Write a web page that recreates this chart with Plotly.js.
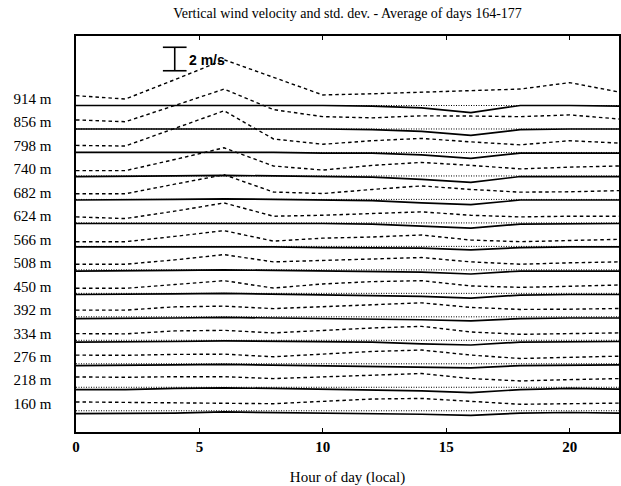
<!DOCTYPE html>
<html>
<head>
<meta charset="utf-8">
<script src="https://cdn.plot.ly/plotly-3.0.1.min.js"></script>
<style>html,body{margin:0;padding:0;background:#fff;}#chart{width:621px;height:486px;}</style>
</head>
<body>
<div id="chart"></div>
<script>
// Hours of day (local)
const hours = [0, 2, 4, 6, 8, 10, 12, 14, 16, 18, 20, 22];
// Heights (bottom to top) and their tick labels
const heights = [160, 218, 276, 334, 392, 450, 508, 566, 624, 682, 740, 798, 856, 914];
const heightLabels = ["160 m", "218 m", "276 m", "334 m", "392 m", "450 m", "508 m", "566 m", "624 m", "682 m", "740 m", "798 m", "856 m", "914 m"];

// Mean vertical wind velocity (m/s) per height
const w_160 = [-0.25, -0.25, -0.2, -0.1, -0.15, -0.2, -0.2, -0.3, -0.4, -0.2, -0.15, -0.2];
const w_218 = [-0.2, -0.2, -0.1, -0.05, -0.1, -0.15, -0.2, -0.3, -0.45, -0.2, -0.1, -0.15];
const w_276 = [-0.15, -0.15, -0.1, -0.05, -0.1, -0.15, -0.2, -0.25, -0.35, -0.15, -0.1, -0.1];
const w_334 = [-0.15, -0.15, -0.1, -0.05, -0.1, -0.15, -0.15, -0.3, -0.4, -0.15, -0.1, -0.1];
const w_392 = [-0.15, -0.15, -0.1, -0.05, -0.1, -0.15, -0.15, -0.25, -0.35, -0.15, -0.1, -0.1];
const w_450 = [-0.1, -0.1, -0.05, 0.0, -0.05, -0.1, -0.15, -0.25, -0.4, -0.15, -0.1, -0.1];
const w_508 = [-0.1, -0.1, -0.05, 0.0, -0.05, -0.1, -0.1, -0.2, -0.35, -0.1, -0.1, -0.1];
const w_566 = [-0.05, -0.05, -0.05, 0.0, -0.05, -0.1, -0.1, -0.15, -0.3, -0.1, -0.05, -0.05];
const w_624 = [-0.05, -0.05, 0.0, 0.0, -0.05, -0.05, -0.1, -0.3, -0.45, -0.1, -0.05, -0.05];
const w_682 = [-0.05, -0.05, 0.0, 0.05, 0.0, -0.05, -0.1, -0.3, -0.45, -0.05, -0.05, -0.05];
const w_740 = [-0.05, -0.05, 0.0, 0.05, 0.0, -0.05, -0.1, -0.3, -0.55, -0.05, -0.05, -0.05];
const w_798 = [0.0, 0.0, 0.0, 0.05, 0.0, -0.05, -0.05, -0.2, -0.5, -0.05, -0.05, -0.05];
const w_856 = [0.0, 0.0, 0.05, 0.05, 0.0, 0.0, -0.05, -0.2, -0.55, -0.05, 0.0, 0.0];
const w_914 = [0.0, 0.0, 0.05, 0.05, 0.0, 0.0, -0.05, -0.2, -0.6, 0.0, 0.0, -0.05];

// Standard deviation of vertical wind velocity (m/s) per height
const sd_160 = [0.75, 0.7, 0.7, 0.65, 0.6, 0.8, 1.0, 1.05, 0.8, 0.55, 0.6, 0.65];
const sd_218 = [0.88, 0.85, 0.9, 0.9, 0.74, 0.9, 1.05, 1.17, 0.74, 0.54, 0.65, 0.74];
const sd_276 = [0.74, 0.72, 0.8, 0.82, 0.6, 0.85, 1.05, 1.17, 0.74, 0.45, 0.55, 0.65];
const sd_334 = [0.57, 0.55, 0.8, 0.85, 0.63, 0.85, 1.05, 1.19, 0.71, 0.51, 0.55, 0.63];
const sd_392 = [0.57, 0.57, 0.85, 0.91, 0.7, 0.85, 1.05, 1.19, 0.8, 0.63, 0.65, 0.71];
const sd_450 = [0.43, 0.43, 0.75, 1.08, 0.45, 0.8, 1.0, 1.08, 0.63, 0.51, 0.6, 0.71];
const sd_508 = [0.48, 0.48, 0.85, 1.3, 0.68, 0.8, 0.95, 1.05, 0.68, 0.48, 0.6, 0.68];
const sd_566 = [0.4, 0.4, 0.85, 1.34, 0.45, 0.7, 0.8, 0.97, 0.54, 0.4, 0.5, 0.6];
const sd_624 = [0.51, 0.37, 1.0, 1.7, 0.57, 0.65, 0.8, 0.94, 0.65, 0.51, 0.57, 0.57];
const sd_682 = [0.48, 0.48, 1.3, 2.1, 0.63, 0.5, 0.85, 1.15, 0.85, 0.62, 0.65, 0.75];
const sd_740 = [0.45, 0.45, 1.4, 2.4, 0.85, 0.5, 0.9, 1.15, 0.9, 0.6, 0.75, 0.85];
const sd_798 = [0.6, 0.55, 2.05, 3.55, 1.15, 0.7, 1.0, 1.2, 0.9, 0.65, 1.0, 0.8];
const sd_856 = [0.77, 0.62, 2.0, 3.4, 1.65, 1.05, 0.95, 1.12, 1.1, 1.05, 1.2, 0.85];
const sd_914 = [0.84, 0.55, 2.2, 3.9, 2.4, 0.9, 1.0, 1.15, 1.25, 1.4, 1.95, 1.15];

const xTicks = [0, 5, 10, 15, 20];
const scaleBarValue = 2; // m/s

const meanSeries = [w_160, w_218, w_276, w_334, w_392, w_450, w_508, w_566, w_624, w_682, w_740, w_798, w_856, w_914];
const sdSeries = [sd_160, sd_218, sd_276, sd_334, sd_392, sd_450, sd_508, sd_566, sd_624, sd_682, sd_740, sd_798, sd_856, sd_914];

const spacing = 2; // m/s between stacked levels
const traces = [];
heights.forEach((h, i) => {
  const base = i * spacing;
  traces.push({
    x: hours, y: hours.map(() => base), mode: 'lines', type: 'scatter',
    line: {color: '#000', width: 1, dash: '1px,1.5px'}, hoverinfo: 'skip', showlegend: false
  });
  traces.push({
    x: hours, y: meanSeries[i].map(v => base + v), mode: 'lines', type: 'scatter',
    line: {color: '#000', width: 1.7}, name: 'w ' + h + ' m', showlegend: false
  });
  traces.push({
    x: hours, y: sdSeries[i].map(v => base + v), mode: 'lines', type: 'scatter',
    line: {color: '#000', width: 1.4, dash: '3.5px,3px'}, name: 'std ' + h + ' m', showlegend: false
  });
});

const barX = 4.0, barTop = 30.96, capHalf = 0.48;
const layout = {
  width: 621, height: 486,
  margin: {l: 76, r: 2, t: 36, b: 54},
  paper_bgcolor: '#fff', plot_bgcolor: '#fff',
  font: {family: 'Liberation Serif, Times New Roman, serif', color: '#000', size: 15},
  title: {text: 'Vertical wind velocity and std. dev. - Average of days 164-177',
          font: {size: 14, family: 'Liberation Serif, serif', color: '#000'},
          xref: 'paper', x: 0.5, xanchor: 'center', yref: 'container', y: 1 - 13/486, yanchor: 'middle'},
  xaxis: {range: [0, 22], tickvals: xTicks, ticktext: xTicks.map(String), ticks: 'inside', ticklen: 4,
          tickcolor: '#000', showline: true, linecolor: '#000', linewidth: 1.6, mirror: 'ticks',
          showgrid: false, zeroline: false, tickfont: {size: 15, weight: 'bold'},
          title: {text: 'Hour of day (local)', font: {size: 15}, standoff: 20}},
  yaxis: {range: [-1.81, 31.92], tickvals: heights.map((h, i) => i * spacing + 0.6), ticktext: heightLabels,
          ticks: '', showline: true, linecolor: '#000', linewidth: 1.6, mirror: true,
          showgrid: false, zeroline: false, tickfont: {size: 15}, ticklabelstandoff: 20},
  shapes: [
    {type: 'line', xref: 'x', yref: 'y', x0: barX, x1: barX, y0: barTop - scaleBarValue, y1: barTop, line: {color: '#000', width: 1.6}},
    {type: 'line', xref: 'x', yref: 'y', x0: barX - capHalf, x1: barX + capHalf, y0: barTop, y1: barTop, line: {color: '#000', width: 1.6}},
    {type: 'line', xref: 'x', yref: 'y', x0: barX - capHalf, x1: barX + capHalf, y0: barTop - scaleBarValue, y1: barTop - scaleBarValue, line: {color: '#000', width: 1.6}}
  ],
  annotations: [
    {xref: 'x', yref: 'y', x: barX + capHalf + 0.02, y: barTop - scaleBarValue / 2 - 0.05, text: scaleBarValue + ' m/s',
     showarrow: false, xanchor: 'left', yanchor: 'middle', font: {size: 14, family: 'Liberation Sans, Arial, sans-serif', color: '#000', weight: 'bold'}}
  ]
};

Plotly.newPlot('chart', traces, layout, {staticPlot: true, displayModeBar: false});
</script>
</body>
</html>
